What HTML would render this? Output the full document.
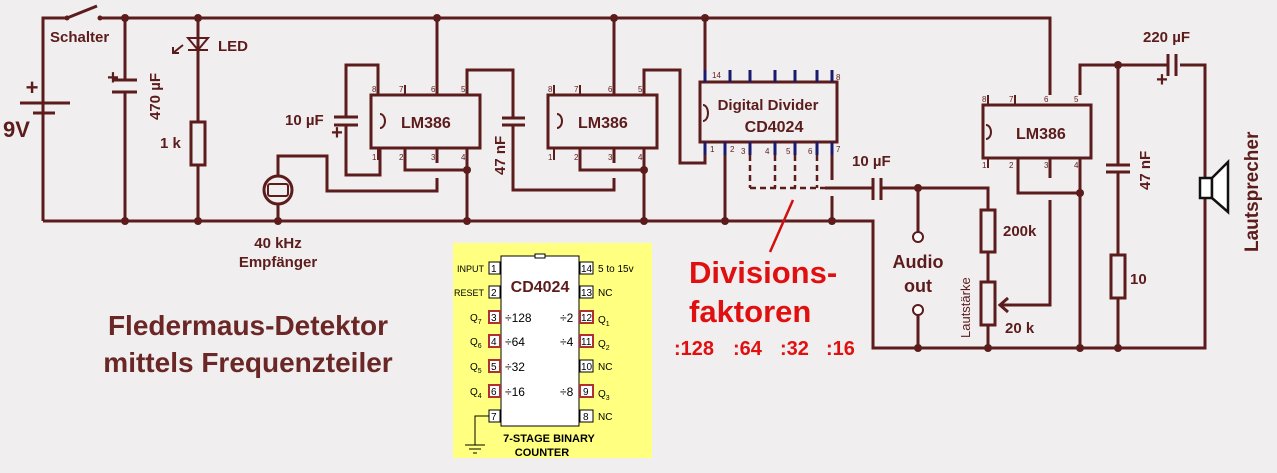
<!DOCTYPE html>
<html><head><meta charset="utf-8"><style>
html,body{margin:0;padding:0;background:#f0eeef;}
svg{display:block;font-family:"Liberation Sans",sans-serif;}
</style></head><body>
<svg width="1277" height="473" viewBox="0 0 1277 473" xmlns="http://www.w3.org/2000/svg">
<rect width="1277" height="473" fill="#f0eeef"/>
<g stroke="#5c1c1c" stroke-width="3" fill="none">
<polyline points="43,221 43,18 67,18"/>
<line x1="67" y1="18" x2="97" y2="6"/>
<polyline points="100,18 1050,18 1050,95"/>
<line x1="20" y1="103" x2="70" y2="103"/><line x1="33" y1="113" x2="55" y2="113"/>
<polyline points="43,221 873,221 873,348 1205,348 1205,65 1180,65"/>
<line x1="125" y1="18" x2="125" y2="80"/><line x1="125" y1="92" x2="125" y2="221"/>
<line x1="112" y1="80" x2="137" y2="80"/><line x1="112" y1="92" x2="137" y2="92"/>
<line x1="198" y1="18" x2="198" y2="122"/>
<rect x="191" y="122" width="14" height="43" fill="#f0eeef"/>
<line x1="198" y1="165" x2="198" y2="221"/>
<rect x="371" y="95" width="109" height="53"/>
<polyline points="378,95 378,65 346,65 346,117"/><polyline points="346,125 346,175 380,175 380,148"/>
<line x1="334" y1="117" x2="358" y2="117"/><line x1="334" y1="125" x2="358" y2="125"/>
<line x1="437" y1="18" x2="437" y2="95"/>
<polyline points="405,148 405,170 467,170"/><line x1="467" y1="148" x2="467" y2="221"/>
<line x1="437" y1="148" x2="437" y2="163"/>
<polyline points="437,178 437,191 327,191 327,156 278,156 278,176"/>
<line x1="278" y1="204" x2="278" y2="221"/>
<circle cx="278" cy="190" r="14" fill="#f0eeef"/>
<polyline points="467,95 467,70 513,70 513,118"/><polyline points="513,125 513,190 614,190 614,178"/>
<line x1="502" y1="118" x2="525" y2="118"/><line x1="502" y1="125" x2="525" y2="125"/>
<rect x="548" y="95" width="109" height="53"/>
<line x1="614" y1="18" x2="614" y2="95"/><line x1="614" y1="148" x2="614" y2="163"/>
<polyline points="580,148 580,170 644,170"/><line x1="644" y1="148" x2="644" y2="221"/>
<polyline points="644,95 644,70 680,70 680,163 705,163 705,150"/>
<rect x="700" y="82" width="137" height="60"/>
<line x1="705" y1="18" x2="705" y2="82"/>
<line x1="725" y1="142" x2="725" y2="221"/>
<line x1="832" y1="142" x2="832" y2="180"/><line x1="832" y1="196" x2="832" y2="221"/>
<polyline points="825,188 873,188"/><line x1="873" y1="178" x2="873" y2="200"/><line x1="881" y1="178" x2="881" y2="200"/>
<polyline points="881,188 988,188 988,210"/>
<rect x="981" y="210" width="14" height="42" fill="#f0eeef"/>
<line x1="988" y1="252" x2="988" y2="282"/>
<rect x="981" y="282" width="14" height="43" fill="#f0eeef"/>
<line x1="988" y1="325" x2="988" y2="348"/>
<line x1="918" y1="188" x2="918" y2="232"/><line x1="918" y1="315" x2="918" y2="348"/>
<polyline points="1050,200 1050,305 1000,305"/><polyline points="1008,298 1000,305 1008,312"/>
<rect x="983" y="105" width="108" height="53"/>
<line x1="1050" y1="158" x2="1050" y2="178"/>
<polyline points="1018,158 1018,193 1080,193"/><line x1="1080" y1="158" x2="1080" y2="348"/>
<polyline points="1080,95 1080,65 1168,65"/>
<line x1="1168" y1="54" x2="1168" y2="76"/><line x1="1176" y1="54" x2="1176" y2="76"/>
<line x1="1118" y1="65" x2="1118" y2="165"/><line x1="1118" y1="172" x2="1118" y2="255"/>
<line x1="1106" y1="165" x2="1130" y2="165"/><line x1="1106" y1="172" x2="1130" y2="172"/>
<rect x="1111" y="255" width="14" height="43" fill="#f0eeef"/>
<line x1="1118" y1="298" x2="1118" y2="348"/>
</g>
<g stroke="#5c1c1c" stroke-width="2" fill="none">
<line x1="378" y1="148" x2="378" y2="160"/><line x1="405" y1="85" x2="405" y2="95"/>
<line x1="554" y1="85" x2="554" y2="95"/><line x1="580" y1="85" x2="580" y2="95"/><line x1="554" y1="148" x2="554" y2="160"/>
<line x1="988" y1="95" x2="988" y2="105"/><line x1="1015" y1="95" x2="1015" y2="105"/><line x1="988" y1="158" x2="988" y2="168"/>
<path d="M380,114 a5,7 0 0 1 0,14"/><path d="M557,114 a5,7 0 0 1 0,14"/><path d="M703,105 a5,8 0 0 1 0,16"/><path d="M986,125 a5,7 0 0 1 0,14"/>
<circle cx="918" cy="237" r="5" fill="#fff"/><circle cx="918" cy="310" r="5" fill="#fff"/>
<rect x="268" y="184" width="20" height="12" rx="2"/>
<polygon points="188,38 208,38 198,50"/><line x1="188" y1="50" x2="208" y2="50"/>
<line x1="183" y1="45" x2="173" y2="53"/><polyline points="173,47 173,53 179,53"/>
</g>
<g stroke="#5c1c1c" stroke-width="2.5" stroke-dasharray="6,4" fill="none">
<line x1="750" y1="155" x2="750" y2="188"/><line x1="775" y1="155" x2="775" y2="188"/><line x1="795" y1="155" x2="795" y2="188"/><line x1="817" y1="155" x2="817" y2="188"/>
<line x1="750" y1="188" x2="825" y2="188"/>
</g>
<g stroke="#1a1a6e" stroke-width="3">
<line x1="705" y1="70" x2="705" y2="82"/><line x1="730" y1="70" x2="730" y2="82"/><line x1="750" y1="70" x2="750" y2="82"/><line x1="775" y1="70" x2="775" y2="82"/><line x1="795" y1="70" x2="795" y2="82"/><line x1="817" y1="70" x2="817" y2="82"/><line x1="832" y1="70" x2="832" y2="82"/>
<line x1="705" y1="142" x2="705" y2="155"/><line x1="725" y1="142" x2="725" y2="155"/><line x1="750" y1="142" x2="750" y2="155"/><line x1="775" y1="142" x2="775" y2="155"/><line x1="795" y1="142" x2="795" y2="155"/><line x1="817" y1="142" x2="817" y2="155"/><line x1="832" y1="142" x2="832" y2="155"/>
</g>
<rect x="1200" y="178" width="12" height="20" fill="#fff" stroke="#111" stroke-width="2.5"/>
<polygon points="1212,178 1228,162 1228,212 1212,198" fill="#fff" stroke="#111" stroke-width="2.5"/>
<g fill="#5c1c1c">
<circle cx="125" cy="18" r="4"/><circle cx="198" cy="18" r="4"/><circle cx="437" cy="18" r="4"/><circle cx="614" cy="18" r="4"/><circle cx="705" cy="18" r="4"/>
<circle cx="125" cy="221" r="4"/><circle cx="198" cy="221" r="4"/><circle cx="278" cy="221" r="4"/><circle cx="467" cy="221" r="4"/><circle cx="644" cy="221" r="4"/><circle cx="725" cy="221" r="4"/><circle cx="832" cy="221" r="4"/>
<circle cx="467" cy="170" r="4"/><circle cx="644" cy="170" r="4"/><circle cx="918" cy="188" r="4"/><circle cx="1080" cy="193" r="4"/><circle cx="1118" cy="65" r="4"/>
<circle cx="918" cy="348" r="4"/><circle cx="988" cy="348" r="4"/><circle cx="1080" cy="348" r="4"/><circle cx="1118" cy="348" r="4"/>
<circle cx="67" cy="18" r="2.5"/><circle cx="100" cy="18" r="2.5"/>
</g>
<line x1="770" y1="252" x2="793" y2="200" stroke="#d01010" stroke-width="2.5"/>
<g fill="#5c1c1c" font-weight="bold">
<text x="32" y="95" font-size="22" text-anchor="middle">+</text>
<text x="3" y="137" font-size="22">9V</text>
<text x="113" y="84" font-size="20" text-anchor="middle">+</text>
<text x="337" y="139" font-size="20" text-anchor="middle">+</text>
<text x="1162" y="86" font-size="20" text-anchor="middle">+</text>
</g>
<g fill="#5c1c1c" font-size="15" font-weight="bold">
<text x="50" y="42">Schalter</text>
<text x="218" y="51">LED</text>
<text x="160" y="148">1 k</text>
<text x="285" y="125">10 µF</text>
<text x="278" y="248" text-anchor="middle">40 kHz</text>
<text x="278" y="267" text-anchor="middle">Empfänger</text>
<text x="401" y="128" font-size="16">LM386</text>
<text x="578" y="128" font-size="16">LM386</text>
<text x="1016" y="139" font-size="16">LM386</text>
<text x="768" y="110" text-anchor="middle" font-size="15">Digital Divider</text>
<text x="774" y="132" text-anchor="middle" font-size="16">CD4024</text>
<text x="852" y="166">10 µF</text>
<text x="1143" y="42">220 µF</text>
<text x="1003" y="236">200k</text>
<text x="1005" y="333">20 k</text>
<text x="1130" y="284">10</text>
<text transform="translate(160,120) rotate(-90)">470 µF</text>
<text transform="translate(505,175) rotate(-90)">47 nF</text>
<text transform="translate(1150,190) rotate(-90)">47 nF</text>
<text transform="translate(970,338) rotate(-90)" font-size="13" font-weight="normal">Lautstärke</text>
<text transform="translate(1258,252) rotate(-90)" font-size="19">Lautsprecher</text>
<text x="918" y="268" text-anchor="middle" font-size="18">Audio</text>
<text x="918" y="292" text-anchor="middle" font-size="18">out</text>
</g>
<g fill="#5c1c1c" font-size="8">
<text x="372" y="92">8</text><text x="399" y="92">7</text><text x="431" y="92">6</text><text x="461" y="92">5</text>
<text x="372" y="160">1</text><text x="399" y="160">2</text><text x="431" y="160">3</text><text x="461" y="160">4</text>
<text x="548" y="92">8</text><text x="574" y="92">7</text><text x="608" y="92">6</text><text x="638" y="92">5</text>
<text x="548" y="160">1</text><text x="574" y="160">2</text><text x="608" y="160">3</text><text x="638" y="160">4</text>
<text x="982" y="102">8</text><text x="1009" y="102">7</text><text x="1044" y="102">6</text><text x="1074" y="102">5</text>
<text x="982" y="168">1</text><text x="1009" y="168">2</text><text x="1044" y="168">3</text><text x="1074" y="168">4</text>
<text x="712" y="78">14</text><text x="836" y="80">8</text>
<text x="710" y="152">1</text><text x="730" y="152">2</text><text x="741" y="154">3</text><text x="765" y="154">4</text><text x="786" y="154">5</text><text x="808" y="154">6</text><text x="836" y="152">7</text>
</g>
<g fill="#e01010" font-weight="bold">
<text x="689" y="283" font-size="31">Divisions-</text>
<text x="689" y="322" font-size="31">faktoren</text>
<g font-size="20"><text x="674" y="355">:128</text><text x="733" y="355">:64</text><text x="780" y="355">:32</text><text x="826" y="355">:16</text></g>
</g>
<g fill="#6b2626" font-weight="bold" font-size="28" text-anchor="middle">
<text x="248" y="335">Fledermaus-Detektor</text>
<text x="248" y="372">mittels Frequenzteiler</text>
</g>
<rect x="453" y="243" width="199" height="215" fill="#ffff80"/>
<g stroke="#000" stroke-width="1" fill="#fff">
<rect x="501" y="256" width="78" height="170"/>
<rect x="535" y="254" width="10" height="4"/>
</g>
<g font-size="10" fill="#000" stroke-width="1">
<g stroke="#000" fill="#fff">
<rect x="489" y="262" width="11" height="12"/><rect x="489" y="286" width="11" height="12"/>
<rect x="489" y="410" width="11" height="12"/>
<rect x="580" y="262" width="13" height="12"/><rect x="580" y="286" width="13" height="12"/>
<rect x="580" y="360" width="13" height="12"/><rect x="580" y="410" width="13" height="12"/>
</g>
<g stroke="#b03030" stroke-width="2" fill="#fff">
<rect x="489" y="311" width="11" height="12"/><rect x="489" y="335" width="11" height="12"/><rect x="489" y="360" width="11" height="12"/><rect x="489" y="385" width="11" height="12"/>
<rect x="580" y="311" width="13" height="12"/><rect x="580" y="335" width="13" height="12"/><rect x="580" y="385" width="13" height="12"/>
</g>
<text x="491" y="272">1</text><text x="491" y="296">2</text><text x="491" y="321">3</text><text x="491" y="345">4</text><text x="491" y="370">5</text><text x="491" y="395">6</text><text x="491" y="420">7</text>
<text x="581" y="272">14</text><text x="581" y="296">13</text><text x="581" y="321">12</text><text x="581" y="345">11</text><text x="581" y="370">10</text><text x="583" y="395">9</text><text x="583" y="420">8</text>
<text x="457" y="272" font-size="9">INPUT</text><text x="454" y="296" font-size="9">RESET</text>
<text x="470" y="321">Q<tspan font-size="7" dy="3">7</tspan></text><text x="470" y="345">Q<tspan font-size="7" dy="3">6</tspan></text><text x="470" y="370">Q<tspan font-size="7" dy="3">5</tspan></text><text x="470" y="395">Q<tspan font-size="7" dy="3">4</tspan></text>
<text x="598" y="272">5 to 15v</text><text x="598" y="296">NC</text>
<text x="598" y="323">Q<tspan font-size="7" dy="3">1</tspan></text><text x="598" y="347">Q<tspan font-size="7" dy="3">2</tspan></text>
<text x="598" y="370">NC</text><text x="598" y="397">Q<tspan font-size="7" dy="3">3</tspan></text><text x="598" y="420">NC</text>
<g font-size="12"><text x="505" y="322">÷128</text><text x="505" y="346">÷64</text><text x="505" y="371">÷32</text><text x="505" y="396">÷16</text>
<text x="560" y="322">÷2</text><text x="560" y="346">÷4</text><text x="560" y="396">÷8</text></g>
</g>
<text x="540" y="292" font-size="16" font-weight="bold" fill="#5c1c1c" text-anchor="middle">CD4024</text>
<polyline points="489,416 475,416 475,445" stroke="#000" stroke-width="1" fill="none"/>
<line x1="465" y1="445" x2="485" y2="445" stroke="#000"/><line x1="469" y1="449" x2="481" y2="449" stroke="#000"/><line x1="473" y1="453" x2="477" y2="453" stroke="#000"/>
<text x="549" y="442" font-size="11" font-weight="bold" text-anchor="middle" fill="#000">7-STAGE BINARY</text>
<text x="542" y="456" font-size="11" font-weight="bold" text-anchor="middle" fill="#000">COUNTER</text>
</svg>
</body></html>
